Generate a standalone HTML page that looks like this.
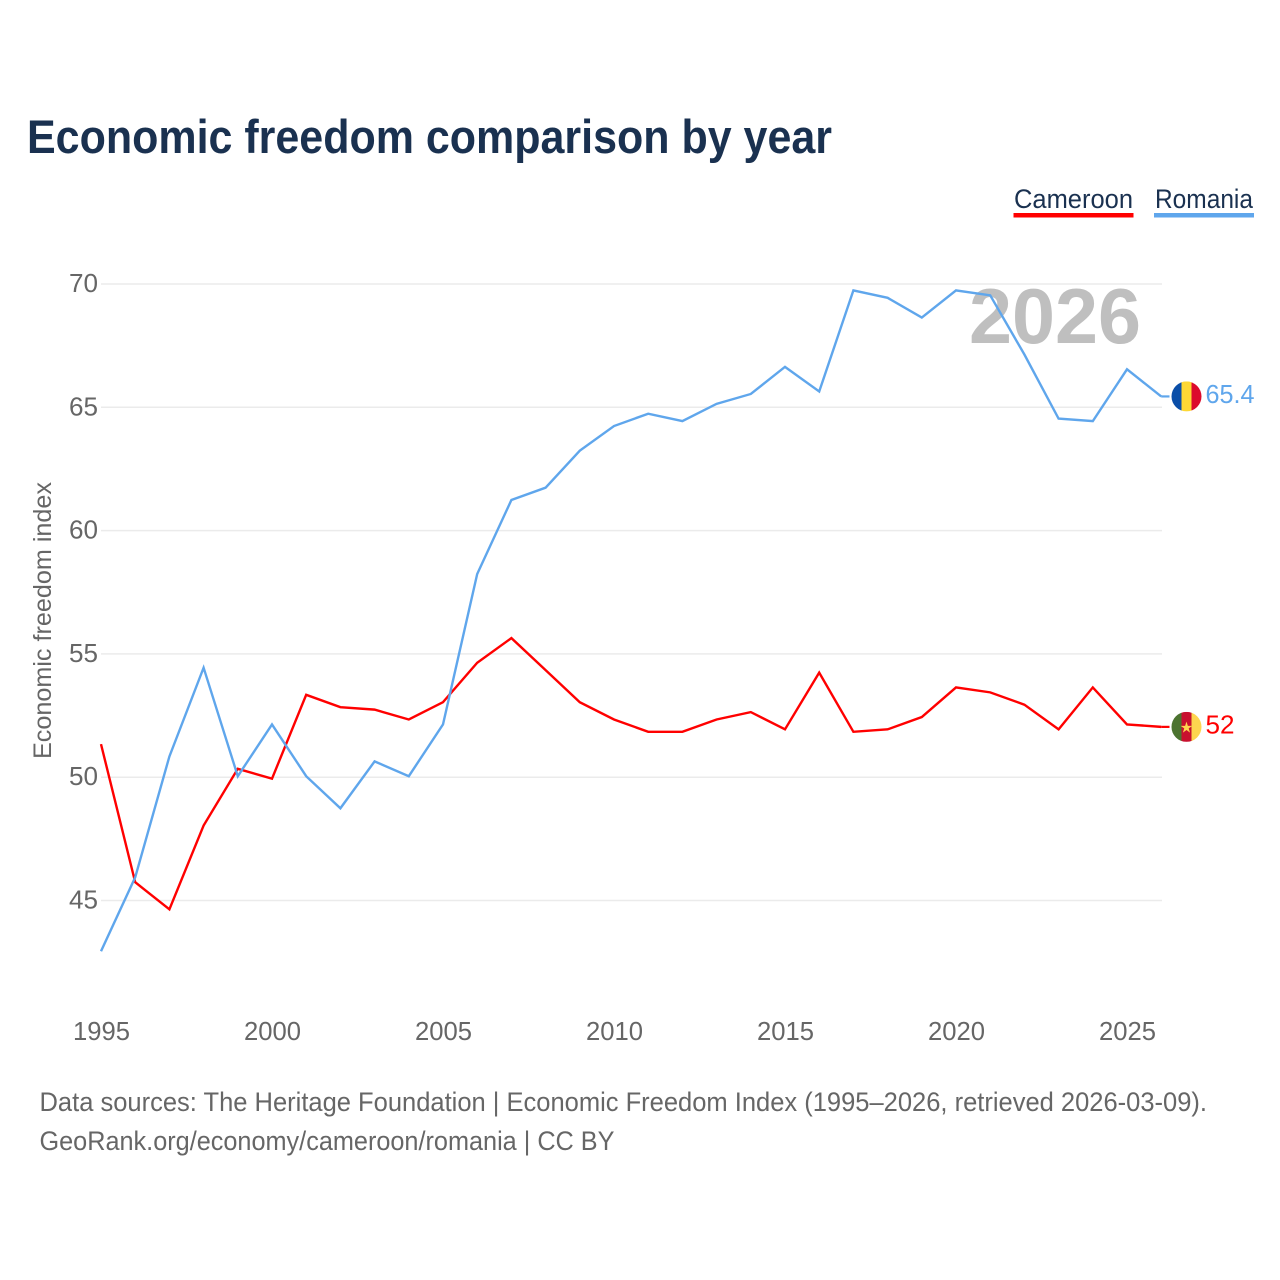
<!DOCTYPE html>
<html lang="en">
<head>
<meta charset="utf-8">
<title>Economic freedom comparison by year</title>
<style>
html,body{margin:0;padding:0;background:#fff;width:1280px;height:1280px;overflow:hidden}
svg{display:block}
text{font-family:"Liberation Sans",sans-serif}
</style>
</head>
<body>
<svg id="chart" xmlns="http://www.w3.org/2000/svg" width="1280" height="1280" viewBox="0 0 1280 1280">
  <defs>
    <clipPath id="clip-flag-romania"><circle cx="0" cy="0" r="15"/></clipPath>
    <clipPath id="clip-flag-cameroon"><circle cx="0" cy="0" r="15"/></clipPath>
  </defs>
  <rect x="0" y="0" width="1280" height="1280" fill="#fff"/>
  <text x="27" y="153" font-size="47" font-weight="700" fill="#1a3150" textLength="805" lengthAdjust="spacingAndGlyphs">Economic freedom comparison by year</text>

  <g>
    <text x="1014" y="208" font-size="27" fill="#1a3150" textLength="119" lengthAdjust="spacingAndGlyphs">Cameroon</text>
    <rect x="1013.5" y="213" width="120" height="4.5" fill="#ff0000"/>
  </g>
  <g>
    <text x="1155" y="208" font-size="27" fill="#1a3150" textLength="98" lengthAdjust="spacingAndGlyphs">Romania</text>
    <rect x="1154" y="213" width="100" height="4.5" fill="#5fa6ec"/>
  </g>

  <g id="grid"></g>
  <g id="y-ticks"></g>
  <g id="x-ticks"></g>

  <text transform="translate(51 620.5) rotate(-90)" text-anchor="middle" font-size="25" fill="#666" textLength="277" lengthAdjust="spacingAndGlyphs">Economic freedom index</text>

  <text x="969" y="343" font-size="78" font-weight="700" fill="#bfbfbf" textLength="172" lengthAdjust="spacingAndGlyphs">2026</text>

  <g id="series" transform="translate(-0.5 -1)"></g>
  <g id="ends" transform="translate(-0.5 -1)"></g>

  <text x="39.5" y="1111" font-size="27" fill="#666" textLength="1167.5" lengthAdjust="spacingAndGlyphs">Data sources: The Heritage Foundation | Economic Freedom Index (1995–2026, retrieved 2026-03-09).</text>
  <text x="39.5" y="1150" font-size="27" fill="#666" textLength="575" lengthAdjust="spacingAndGlyphs">GeoRank.org/economy/cameroon/romania | CC BY</text>
</svg>
<script>
const years = [1995,1996,1997,1998,1999,2000,2001,2002,2003,2004,2005,2006,2007,2008,2009,2010,2011,2012,2013,2014,2015,2016,2017,2018,2019,2020,2021,2022,2023,2024,2025,2026];
const cameroon = [51.3,45.7,44.6,48.0,50.3,49.9,53.3,52.8,52.7,52.3,53.0,54.6,55.6,54.3,53.0,52.3,51.8,51.8,52.3,52.6,51.9,54.2,51.8,51.9,52.4,53.6,53.4,52.9,51.9,53.6,52.1,52.0];
const romania = [42.9,45.9,50.8,54.4,50.0,52.1,50.0,48.7,50.6,50.0,52.1,58.2,61.2,61.7,63.2,64.2,64.7,64.4,65.1,65.5,66.6,65.6,69.7,69.4,68.6,69.7,69.5,67.1,64.5,64.4,66.5,65.4];
const yTickValues = [45,50,55,60,65,70];
const xTickValues = [1995,2000,2005,2010,2015,2020,2025];

const NS = 'http://www.w3.org/2000/svg';
function xScale(year){ return 101.5 + (year - 1995) * (1161.7 - 101.5) / 31; }
function yScale(value){ return 284 + (70 - value) * (900.5 - 284) / 25; }
function make(tag, attrs, parent){
  const el = document.createElementNS(NS, tag);
  Object.keys(attrs).forEach(function(k){ el.setAttribute(k, attrs[k]); });
  parent.appendChild(el);
  return el;
}

const gridGroup = document.getElementById('grid');
const yGroup = document.getElementById('y-ticks');
const xGroup = document.getElementById('x-ticks');
const seriesGroup = document.getElementById('series');
const endsGroup = document.getElementById('ends');

yTickValues.forEach(function(v){
  const line = make('line', {x1:101, x2:1162, y1:yScale(v), y2:yScale(v), stroke:'#ebebeb', 'stroke-width':1.5}, gridGroup);
  
  
  const label = make('text', {x:98, y:yScale(v) + 8, 'text-anchor':'end', 'font-size':26, fill:'#666', textLength:29, lengthAdjust:'spacingAndGlyphs'}, yGroup);
  label.textContent = String(v);
  
  
});

xTickValues.forEach(function(y){
  const label = make('text', {x:xScale(y), y:1040, 'text-anchor':'middle', 'font-size':26, fill:'#666', textLength:57, lengthAdjust:'spacingAndGlyphs'}, xGroup);
  label.textContent = String(y);
  
  
});

function pathFor(values){
  return values.map(function(v, i){
    return (i ? 'L' : 'M') + xScale(years[i]).toFixed(2) + ' ' + yScale(v).toFixed(2);
  }).join(' ');
}

const cameroonLine = make('path', {d:pathFor(cameroon), fill:'none', stroke:'#ff0000', 'stroke-width':2.4, 'stroke-linejoin':'miter'}, seriesGroup);


const romaniaLine = make('path', {d:pathFor(romania), fill:'none', stroke:'#5fa6ec', 'stroke-width':2.4, 'stroke-linejoin':'miter'}, seriesGroup);



function endMark(values, color, clipId, stripes, name){
  const last = values[values.length - 1];
  const y = yScale(last);
  const conn = make('line', {x1:xScale(2026), x2:1170, y1:y, y2:y, stroke:color, 'stroke-width':2.2}, endsGroup);
  
  
  const g = make('g', {transform:'translate(1187 ' + y + ')', 'clip-path':'url(#' + clipId + ')'}, endsGroup);
  
  
  stripes.forEach(function(c, i){
    make('rect', {x:-15 + i * 10, y:-15, width:10.2, height:30, fill:c}, g);
  });
  const t = make('text', {x:1206, y:y + 6.5, 'font-size':26, fill:color}, endsGroup);
  t.textContent = String(last);
  t.setAttribute('textLength', String(last).length > 2 ? '49' : '29');
  t.setAttribute('lengthAdjust', 'spacingAndGlyphs');
  
  
  return g;
}

endMark(romania, '#5fa6ec', 'clip-flag-romania', ['#0a4ea8','#fdd835','#dc0a2c'], 'romania');
const camFlag = endMark(cameroon, '#ff0000', 'clip-flag-cameroon', ['#4c7330','#c8102e','#fdd54f'], 'cameroon');
const star = make('text', {x:0, y:5.5, 'text-anchor':'middle', 'font-size':15, fill:'#fdd54f', style:'font-family:"DejaVu Sans",sans-serif'}, camFlag);
star.textContent = '★';


</script>
</body>
</html>
